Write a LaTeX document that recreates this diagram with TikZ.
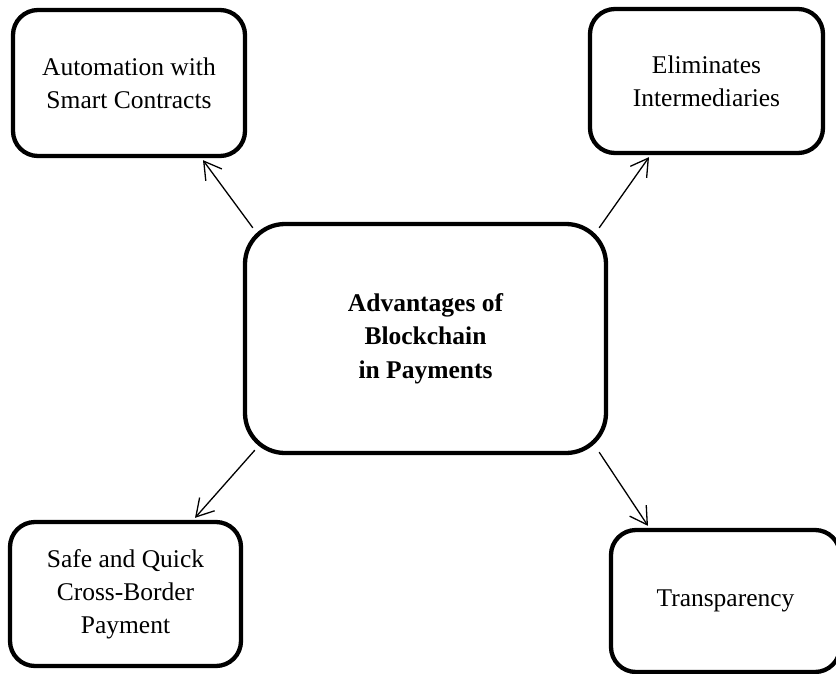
\documentclass[tikz,border=0pt]{standalone}
\usepackage{fontspec}
\setmainfont{Liberation Serif}
\usetikzlibrary{arrows.meta,calc}
\tikzset{
  boxstyle/.style={draw=black, line width=4.3pt, rounded corners=25pt, align=center,
    inner sep=0pt, font=\fontsize{25.5}{33}\selectfont, fill=white},
  mainbox/.style={boxstyle, rounded corners=40pt, font=\fontsize{25.5}{33.5}\selectfont\bfseries},
  arr/.style={draw=black, line width=1.3pt, -{Straight Barb[length=17pt,width=20pt,line width=1.3pt]}}
}
\begin{document}
\begin{tikzpicture}[x=1pt,y=-1pt]
\clip (0,0) rectangle (836,673);
\fill[white] (0,0) rectangle (836,673);
\node[mainbox, minimum width=361pt, minimum height=229pt] (c) at (425.5,338.5) {Advantages of\\Blockchain\\in Payments};
\node[boxstyle, minimum width=232pt, minimum height=146pt] (tl) at (129,83) {Automation with\\Smart Contracts};
\node[boxstyle, minimum width=233pt, minimum height=144pt] (tr) at (706.5,81) {Eliminates\\Intermediaries};
\node[boxstyle, minimum width=231pt, minimum height=144pt] (bl) at (125.5,594) {Safe and Quick\\Cross-Border\\Payment};
\node[boxstyle, minimum width=229pt, minimum height=142pt] (br) at (725.5,601) {Transparency};
\draw[arr] ($(c.north west)+(10,6)$) -- ($(tl.south)+(74,2)$);
\draw[arr] ($(c.north east)+(-9,6)$) -- ($(tr.south)+(-57.5,2)$);
\draw[arr] ($(c.south west)+(12,-5)$) -- ($(bl.north)+(69.5,-2)$);
\draw[arr] ($(c.south east)+(-9,-3)$) -- ($(br.north)+(-77.5,-2)$);
\end{tikzpicture}
\end{document}
